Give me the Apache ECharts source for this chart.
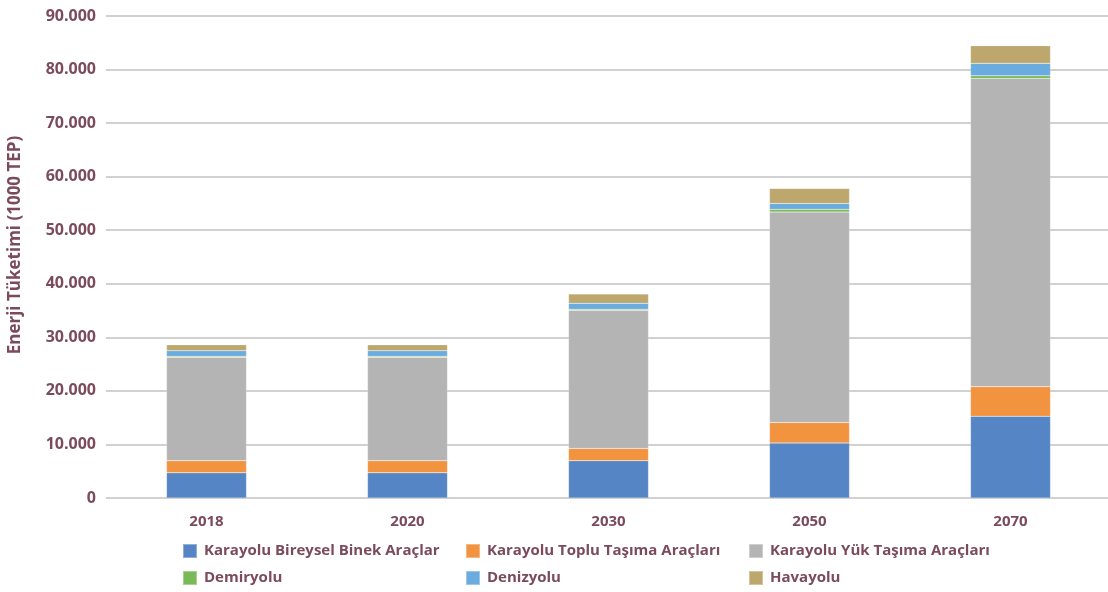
<!DOCTYPE html>
<html>
<head>
<meta charset="utf-8">
<script src="https://cdn.jsdelivr.net/npm/echarts@6/dist/echarts.min.js"></script>
<style>
    html, body { margin: 0; padding: 0; background: #fff; }
    #myChart { width: 1108px; height: 592px; }
</style>
</head>
<body>
<div id="myChart"></div>
<script>
    // yillar
    var years = ['2018', '2020', '2030', '2050', '2070'];
    var yTicks = [0, 10000, 20000, 30000, 40000, 50000, 60000, 70000, 80000, 90000];

    // seriler (1000 TEP)
    var bireysel = [4700, 4700, 6950, 10250, 15250];
    var toplu = [2250, 2250, 2300, 3850, 5550];
    var yuk = [19350, 19350, 25800, 39300, 57550];
    var demiryolu = [150, 150, 200, 500, 500];
    var denizyolu = [1050, 1050, 1100, 1100, 2300];
    var havayolu = [1100, 1100, 1750, 2800, 3300];

    var names = ['Karayolu Bireysel Binek Araçlar', 'Karayolu Toplu Taşıma Araçları', 'Karayolu Yük Taşıma Araçları',
        'Demiryolu', 'Denizyolu', 'Havayolu'];
    var colors = ['#5585c5', '#f29340', '#b3b4b3', '#7ab957', '#6aabe0', '#bda76d'];
    var allData = [bireysel, toplu, yuk, demiryolu, denizyolu, havayolu];

    var txtColor = '#7b4b5c';
    var font = 'Open Sans';

    var dom = document.getElementById('myChart');
    var myChart = echarts.init(dom);

    var series = [];
    for (var i = 0; i < names.length; i++) {
        series.push({
            name: names[i],
            type: 'bar',
            stack: 'toplam',
            barWidth: 80,
            itemStyle: {
                color: colors[i],
                borderColor: 'rgba(255,255,255,0.35)',
                borderWidth: 0.5
            },
            data: allData[i]
        });
    }

    // her lejant ogesi ayri yerlestiriliyor (3 sutun, 2 satir)
    var legendLeft = [182, 465, 748];
    var legendTop = [543, 570];
    var legends = [];
    for (var j = 0; j < names.length; j++) {
        legends.push({
            left: legendLeft[j % 3],
            top: legendTop[Math.floor(j / 3)],
            padding: 0,
            itemWidth: 14,
            itemHeight: 14,
            icon: 'rect',
            textStyle: { color: txtColor, fontSize: 15, fontWeight: 'bold', fontFamily: font, padding: [0, 0, 0, 2] },
            data: [names[j]]
        });
    }

    var option = {
        animation: false,
        color: colors,
        grid: {
            left: 106,
            width: 1005,
            top: 16,
            bottom: 94,
            outerBoundsMode: 'none'
        },
        legend: legends,
        xAxis: {
            type: 'category',
            data: years,
            axisLine: { show: false },
            axisTick: { show: false },
            axisLabel: {
                margin: 16,
                color: txtColor,
                fontSize: 15,
                fontWeight: 'bold',
                fontFamily: font
            }
        },
        yAxis: {
            type: 'value',
            min: yTicks[0],
            max: yTicks[yTicks.length - 1],
            interval: 10000,
            name: 'Enerji Tüketimi (1000 TEP)',
            nameLocation: 'middle',
            nameGap: 82,
            nameTextStyle: { color: txtColor, fontSize: 17, fontWeight: 'bold', fontFamily: font, padding: [0, 0, 0, 24] },
            axisLine: { show: false },
            axisTick: { show: false },
            splitLine: {
                show: true,
                lineStyle: { color: '#c2c2c2', width: 1.5 }
            },
            axisLabel: {
                margin: 10,
                color: txtColor,
                fontSize: 16,
                fontWeight: 'bold',
                fontFamily: font,
                formatter: function (v) {
                    return String(v).replace(/\B(?=(\d{3})+(?!\d))/g, '.');
                }
            }
        },
        series: series
    };
    myChart.setOption(option, true);
</script>
</body>
</html>
